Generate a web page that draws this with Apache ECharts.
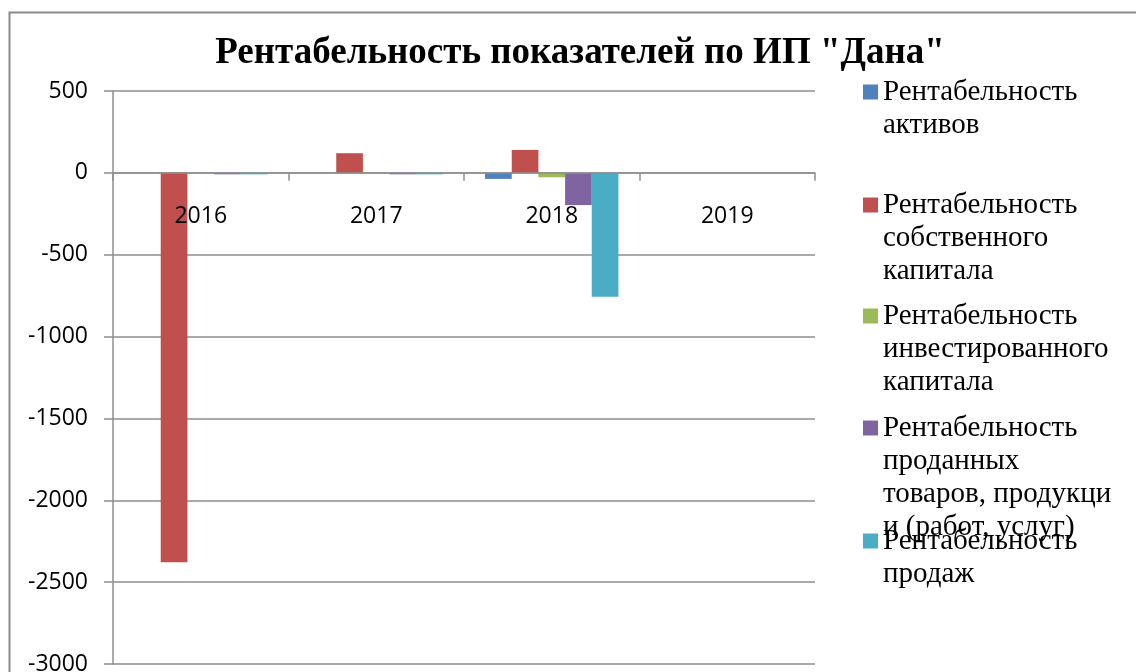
<!DOCTYPE html>
<html>
<head>
<meta charset="utf-8">
<title>Рентабельность показателей</title>
<script src="https://cdn.jsdelivr.net/npm/echarts@6/dist/echarts.min.js"></script>
<style>
    html, body { margin: 0; padding: 0; background: #fff; }
    #chart { width: 1136px; height: 672px; }
</style>
</head>
<body>
<div id="chart"></div>
<script>
//данные
var years = ["2016", "2017", "2018", "2019"];
var seriesNames = [
    "Рентабельность активов",
    "Рентабельность собственного капитала",
    "Рентабельность инвестированного капитала",
    "Рентабельность проданных товаров, продукции (работ, услуг)",
    "Рентабельность продаж"
];
var legendLines = [
    ["Рентабельность", "активов"],
    ["Рентабельность", "собственного", "капитала"],
    ["Рентабельность", "инвестированного", "капитала"],
    ["Рентабельность", "проданных", "товаров, продукци", "и (работ, услуг)"],
    ["Рентабельность", "продаж"]
];
var assetsValues = [0, 0, -37, 0];
var equityValues = [-2378, 120, 140, 0];
var investedValues = [0, 0, -27, 0];
var goodsValues = [-9, -9, -197, 0];
var salesValues = [-9, -9, -757, 0];
var yMin = -3000;
var yMax = 500;
var yStep = 500;

var colors = ["#4F81BD", "#C0504D", "#9BBB59", "#8064A2", "#4BACC6"];
var allValues = [assetsValues, equityValues, investedValues, goodsValues, salesValues];

//инициализация
var chart = echarts.init(document.getElementById("chart"));

//размеры области построения
var gridTop = 91;
var gridBottom = 8;
var gridHeight = 672 - gridTop - gridBottom;
//ось X проходит через ноль
var zeroOffset = -gridHeight * (0 - yMin) / (yMax - yMin);

var lineH = 33;
var iconCenters = [92, 205, 316, 428, 541];
var legends = [];
var series = [];
for (var i = 0; i < seriesNames.length; i++) {
    (function(idx) {
        var n = legendLines[idx].length;
        var blank = "";
        for (var k = 1; k < n; k++) blank += "\n";
        legends.push({
            data: [seriesNames[idx]],
            left: 863,
            top: iconCenters[idx] - (n - 1) * lineH - lineH / 2,
            padding: 0,
            itemWidth: 15,
            itemHeight: 15,
            icon: "rect",
            formatter: function() {
                return blank + legendLines[idx].join("\n");
            },
            textStyle: {
                fontFamily: "Liberation Serif",
                fontSize: 29,
                lineHeight: lineH,
                color: "#000"
            }
        });
    })(i);
    series.push({
        name: seriesNames[i],
        type: "bar",
        barGap: "0%",
        barCategoryGap: "24%",
        itemStyle: { color: colors[i] },
        data: allValues[i]
    });
}

var option = {
    animation: false,
    color: colors,
    title: {
        text: "Рентабельность показателей по ИП \"Дана\"",
        left: 580,
        top: 35,
        textAlign: "center",
        padding: 0,
        textStyle: {
            fontFamily: "Liberation Serif",
            fontWeight: "bold",
            fontSize: 37,
            color: "#000"
        }
    },
    legend: legends,
    grid: {
        left: 113,
        right: 321,
        top: gridTop,
        bottom: gridBottom,
        containLabel: false,
        outerBoundsMode: "none"
    },
    xAxis: {
        type: "category",
        data: years,
        position: "bottom",
        offset: zeroOffset,
        z: 5,
        axisLine: { onZero: false, lineStyle: { color: "#8e8e8e", width: 1.5 } },
        axisTick: { show: true, length: 8, lineStyle: { color: "#8e8e8e", width: 1.5 } },
        axisLabel: {
            margin: 32,
            fontFamily: "Open Sans",
            fontSize: 23,
            color: "#000"
        },
        splitLine: { show: false }
    },
    yAxis: {
        type: "value",
        min: yMin,
        max: yMax,
        interval: yStep,
        axisLine: { show: true, lineStyle: { color: "#8e8e8e", width: 1.5 } },
        axisTick: { show: true, length: 9, lineStyle: { color: "#8e8e8e", width: 1.5 } },
        axisLabel: {
            margin: 25,
            fontFamily: "Open Sans",
            fontSize: 23,
            color: "#000",
            formatter: function(v) { return String(v); }
        },
        splitLine: { show: true, lineStyle: { color: "#8e8e8e", width: 1.5 } }
    },
    graphic: [
        {
            type: "rect",
            z: -1,
            shape: { x: 9.5, y: 12.5, width: 1200, height: 800 },
            style: { fill: "none", stroke: "#8a8a8a", lineWidth: 2 }
        }
    ],
    series: series
};

chart.setOption(option);
</script>
</body>
</html>
